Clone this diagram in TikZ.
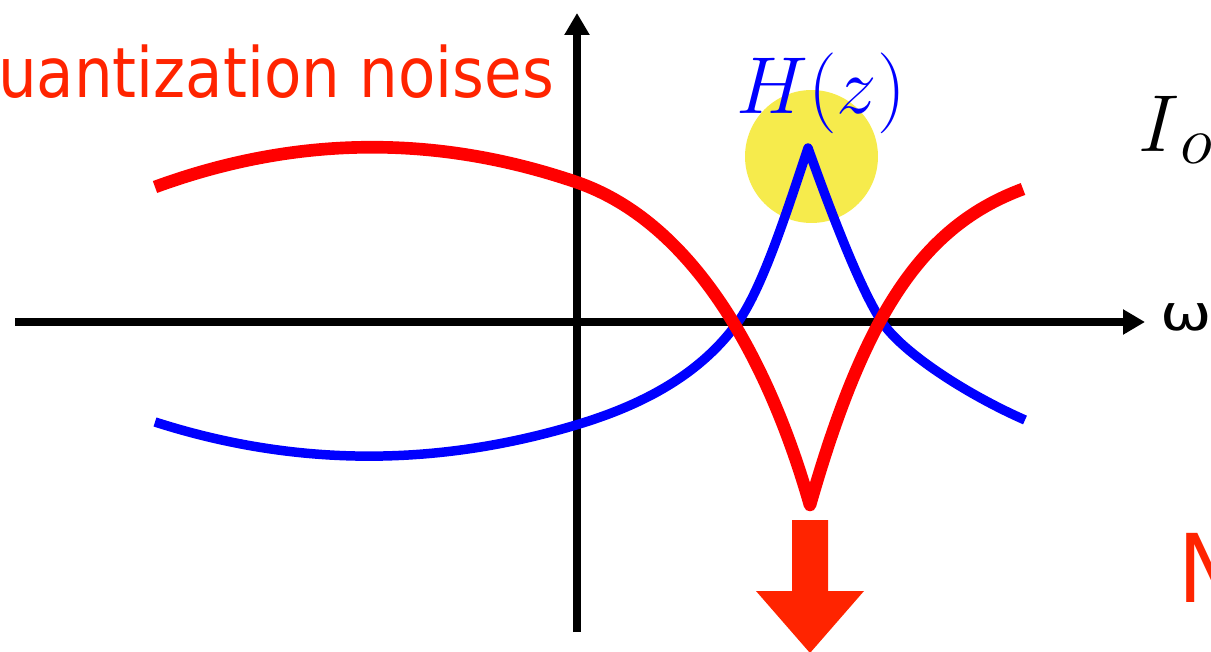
\documentclass[tikz,border=0pt]{standalone}
\usepackage{fontspec}
\usetikzlibrary{arrows.meta}
\newfontfamily\tahfont[FakeStretch=0.88]{DejaVu Sans}
\newfontfamily\dvfont[FakeStretch=1.25]{DejaVu Sans}
\definecolor{tred}{RGB}{255,36,0}
\definecolor{hiyel}{RGB}{246,235,76}
\definecolor{cblue}{RGB}{0,0,255}
\definecolor{cred}{RGB}{255,0,0}
\newcommand{\bigmath}[1]{\scalebox{1.849}{\fontsize{24.88}{28}\selectfont$#1$}}
\newcommand{\midmath}[1]{\scalebox{1.55}{\fontsize{24.88}{28}\selectfont$#1$}}
\begin{document}
\begin{tikzpicture}[x=0.02cm,y=-0.02cm,
  axis/.style={black,line width=4.5pt,-{Triangle[width=13.6pt,length=12.5pt]}},
  bluecurve/.style={cblue,line width=5.4pt,line join=round,line cap=butt},
  redcurve/.style={cred,line width=7.2pt,line join=round,line cap=butt},
  lbl/.style={inner sep=0pt,outer sep=0pt}]
\useasboundingbox (0,0) rectangle (1211,652);
\clip (0,0) rectangle (1211,652);
% highlight
\node[circle,fill=hiyel,minimum size=2.66cm,inner sep=0pt] (glow) at (811.5,156.5) {};
% axes
\coordinate (yb) at (577,632);
\coordinate (yt) at (577,13);
\coordinate (xl) at (15,322);
\coordinate (xr) at (1145,322);
\draw[axis] (yb) -- (yt);
\draw[axis] (xl) -- (xr);
% blue curve H(z)
\coordinate (b0) at (155,422);
\coordinate (b1) at (576,425);
\coordinate (b2) at (738,322);
\coordinate (bp) at (808,148);
\coordinate (b3) at (882,322);
\coordinate (b4) at (1025,420);
\draw[bluecurve] (b0) .. controls (293.7,466.5) and (434,467.5) .. (b1)
  .. controls (636,407) and (698,378) .. (b2)
  .. controls (763,287) and (788,208) .. (bp)
  .. controls (830,209.6) and (860,289) .. (b3)
  .. controls (902,352) and (965,393.6) .. (b4);
% red curve (noise)
\coordinate (r0) at (155,187);
\coordinate (r1) at (576,182);
\coordinate (rc) at (810,505);
\coordinate (r2) at (1023,189);
\draw[redcurve] (r0) .. controls (295,135.7) and (435,134) .. (r1)
  .. controls (696,223) and (770,365) .. (rc)
  .. controls (865,312.5) and (923,226) .. (r2);
% down arrow
\fill[tred] (792,520) -- (828,520) -- (828,591) -- (864,591) -- (810,653) -- (756,591) -- (792,591) -- cycle;
% labels
\node[lbl,anchor=base east,text=tred,font=\tahfont\fontsize{39.5}{44}\selectfont] (qn) at (554,98) {uantization noises};
\node[lbl,anchor=base,text=cblue] (hz) at (821,113) {\bigmath{H(z)}};
\node[lbl,anchor=base west] (io) at (1138,152) {\bigmath{I}};
\node[lbl,anchor=base west] (io2) at (1180,164) {\midmath{o}};
\node[lbl,anchor=base west,text=tred,font=\tahfont\fontsize{54}{60}\selectfont] (nn) at (1178,602) {N};
\node[lbl,anchor=base west,font=\dvfont\fontsize{28}{32}\selectfont] (om) at (1160,330) {ω};
\end{tikzpicture}
\end{document}
